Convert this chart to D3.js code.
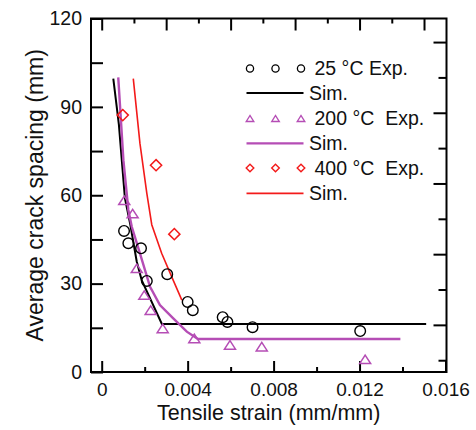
<!DOCTYPE html>
<html>
<head>
<meta charset="utf-8">
<style>
body { margin: 0; background: #fff; }
text { font-family: "Liberation Sans", Arial, sans-serif; fill: #111; }
.tick line { stroke: #000; stroke-width: 2px; }
.legend text { white-space: pre; }
</style>
</head>
<body>
<script src="https://cdn.jsdelivr.net/npm/d3@7"></script>
<script>

// 25 C experiment
var exp25Strain = [0.00104, 0.00124, 0.00183, 0.0021, 0.00305, 0.0040, 0.00424, 0.00563, 0.00585, 0.00702, 0.01203];
var exp25Spacing = [47.9, 43.7, 42.0, 30.9, 33.2, 23.8, 21.0, 18.6, 17.0, 15.2, 13.9];
// 25 C simulation
var sim25Strain = [0.00054, 0.0008, 0.00108, 0.00132, 0.00163, 0.00186, 0.0028, 0.0151];
var sim25Spacing = [99.6, 84, 59, 50.5, 37.5, 31.2, 16.3, 16.3];

// 200 C experiment
var exp200Strain = [0.00105, 0.00144, 0.00163, 0.00198, 0.00228, 0.00284, 0.00431, 0.00597, 0.00745, 0.01226];
var exp200Spacing = [58.3, 53.8, 35.2, 26.1, 21.0, 14.8, 11.4, 9.2, 8.6, 4.3];
// 200 C simulation
var sim200Strain = [0.00077, 0.00101, 0.00124, 0.0014, 0.00178, 0.00225, 0.00271, 0.00333, 0.00396, 0.00448, 0.0139];
var sim200Spacing = [100, 71.9, 55, 49.3, 40.3, 28.9, 22.7, 18.2, 13.7, 11.2, 11.2];

// 400 C experiment
var exp400Strain = [0.00098, 0.00253, 0.00338];
var exp400Spacing = [87.2, 70.2, 46.8];
// 400 C simulation
var sim400Strain = [0.00147, 0.00178, 0.0021, 0.00233, 0.00279, 0.00326, 0.00373];
var sim400Spacing = [99.6, 77.6, 60.6, 50.0, 40.3, 32.3, 24.4];

// axis ticks
var xMajorTicks = [0, 0.004, 0.008, 0.012, 0.016];
var xMinorTicks = [0.002, 0.006, 0.010, 0.014];
var yMajorTicks = [0, 30, 60, 90, 120];
var yMinorTicks = [15, 45, 75, 105];
var topMajorTicks = [0, 0.003, 0.006, 0.009, 0.012, 0.015];
var topMinorTicks = [0.0015, 0.0045, 0.0075, 0.0105, 0.0135];
var rightMajorTicks = [16, 40, 64, 88, 112];
var rightMinorTicks = [4, 28, 52, 76, 100];

var legendLabels = ["25 \u00b0C Exp.", "Sim.", "200 \u00b0C  Exp.", "Sim.", "400 \u00b0C  Exp.", "Sim."];

var width = 476, height = 430;
var black = "#000", purple = "#b54db5", red = "#f31a1a";

var svg = d3.select("body").append("svg")
    .attr("width", width)
    .attr("height", height);

var x = d3.scaleLinear().domain([0, 0.016]).range([101.7, 445.5]);
var y = d3.scaleLinear().domain([0, 120]).range([372, 18.5]);
var left = 91, right = 446.5;

function zip(a, b) { return a.map(function(v, i) { return [v, b[i]]; }); }

// frame
svg.append("rect")
    .attr("x", left).attr("y", y(120))
    .attr("width", right - left).attr("height", y(0) - y(120))
    .attr("fill", "none").attr("stroke", "#000").attr("stroke-width", 2);

// bottom axis
var gx = svg.append("g").attr("transform", "translate(0," + y(0) + ")");
gx.call(d3.axisBottom(x).tickValues(xMajorTicks).tickSizeInner(-11).tickSizeOuter(0).tickPadding(10.5)
    .tickFormat(function(d) { return d === 0 ? "0" : d3.format(".3f")(d); }));
gx.append("g").call(d3.axisBottom(x).tickValues(xMinorTicks).tickSizeInner(-5).tickSizeOuter(0).tickFormat(""));
gx.selectAll("text").style("font-size", "19px").attr("fill", "#111");

// top axis
var gt = svg.append("g").attr("transform", "translate(0," + y(120) + ")");
gt.call(d3.axisTop(x).tickValues(topMajorTicks).tickSizeInner(-12).tickSizeOuter(0).tickFormat(""));
gt.append("g").call(d3.axisTop(x).tickValues(topMinorTicks).tickSizeInner(-5).tickSizeOuter(0).tickFormat(""));

// left axis
var gy = svg.append("g").attr("transform", "translate(" + left + ",0)");
gy.call(d3.axisLeft(y).tickValues(yMajorTicks).tickSizeInner(-12).tickSizeOuter(0).tickPadding(9));
gy.append("g").call(d3.axisLeft(y).tickValues(yMinorTicks).tickSizeInner(-12).tickSizeOuter(0).tickFormat(""));
gy.selectAll("text").style("font-size", "19.5px").attr("fill", "#111");

// right axis
var gr = svg.append("g").attr("transform", "translate(" + right + ",0)");
gr.call(d3.axisRight(y).tickValues(rightMajorTicks).tickSizeInner(-13).tickSizeOuter(0).tickFormat(""));
gr.append("g").call(d3.axisRight(y).tickValues(rightMinorTicks).tickSizeInner(-8).tickSizeOuter(0).tickFormat(""));

svg.selectAll(".domain").remove();

// axis titles
svg.append("text")
    .attr("x", (left + right) / 2).attr("y", 420)
    .attr("text-anchor", "middle")
    .style("font-size", "21.5px")
    .text("Tensile strain (mm/mm)");

svg.append("text")
    .attr("transform", "translate(43," + (y(0) + y(120)) / 2 + ") rotate(-90)")
    .attr("text-anchor", "middle")
    .style("font-size", "23px")
    .text("Average crack spacing (mm)");

// simulation lines
var line = d3.line().x(function(d) { return x(d[0]); }).y(function(d) { return y(d[1]); });

svg.append("path").datum(zip(sim25Strain, sim25Spacing))
    .attr("d", line).attr("fill", "none").attr("stroke", black).attr("stroke-width", 2);
svg.append("path").datum(zip(sim200Strain, sim200Spacing))
    .attr("d", line).attr("fill", "none").attr("stroke", purple).attr("stroke-width", 2.4);
svg.append("path").datum(zip(sim400Strain, sim400Spacing))
    .attr("d", line).attr("fill", "none").attr("stroke", red).attr("stroke-width", 1.6);

// marker shapes
function triangle(w, h) {
  return "M" + (-w / 2) + "," + (h / 2) + "L0," + (-h / 2) + "L" + (w / 2) + "," + (h / 2) + "Z";
}
function diamond(r) {
  return "M0," + (-r) + "L" + r + ",0L0," + r + "L" + (-r) + ",0Z";
}

// experiment markers
svg.append("g").selectAll("circle")
    .data(zip(exp25Strain, exp25Spacing))
    .enter().append("circle")
    .attr("cx", function(d) { return x(d[0]); })
    .attr("cy", function(d) { return y(d[1]); })
    .attr("r", 5.3)
    .attr("fill", "none").attr("stroke", black).attr("stroke-width", 1.4);

svg.append("g").selectAll("path")
    .data(zip(exp200Strain, exp200Spacing))
    .enter().append("path")
    .attr("transform", function(d) { return "translate(" + x(d[0]) + "," + y(d[1]) + ")"; })
    .attr("d", triangle(11, 8.5))
    .attr("fill", "none").attr("stroke", purple).attr("stroke-width", 1.5);

svg.append("g").selectAll("path")
    .data(zip(exp400Strain, exp400Spacing))
    .enter().append("path")
    .attr("transform", function(d) { return "translate(" + x(d[0]) + "," + y(d[1]) + ")"; })
    .attr("d", diamond(5.6))
    .attr("fill", "none").attr("stroke", red).attr("stroke-width", 1.5);

// legend
var legend = svg.append("g").attr("class", "legend");
var rowY = [68.5, 93, 118.5, 143.3, 168, 193.3];
var colors = [black, black, purple, purple, red, red];
var markX = [250, 275.5, 301];

legendLabels.forEach(function(label, i) {
  var ry = rowY[i];
  if (i % 2 === 0) {
    markX.forEach(function(mx) {
      if (i === 0) {
        legend.append("circle").attr("cx", mx).attr("cy", ry).attr("r", 3.6)
            .attr("fill", "none").attr("stroke", colors[i]).attr("stroke-width", 1.3);
      } else if (i === 2) {
        legend.append("path").attr("transform", "translate(" + mx + "," + ry + ")")
            .attr("d", triangle(7.5, 6)).attr("fill", "none").attr("stroke", colors[i]).attr("stroke-width", 1.4);
      } else {
        legend.append("path").attr("transform", "translate(" + mx + "," + ry + ")")
            .attr("d", diamond(3.8)).attr("fill", "none").attr("stroke", colors[i]).attr("stroke-width", 1.4);
      }
    });
    legend.append("text").attr("x", 314.5).attr("y", ry).attr("dy", "0.35em")
        .style("font-size", "19.5px").text(label);
  } else {
    legend.append("line").attr("x1", 246.5).attr("x2", 303.5).attr("y1", ry).attr("y2", ry)
        .attr("stroke", colors[i]).attr("stroke-width", colors[i] === purple ? 2.2 : 1.8);
    legend.append("text").attr("x", 309).attr("y", ry).attr("dy", "0.35em")
        .style("font-size", "19.5px").text(label);
  }
});

</script>
</body>
</html>
